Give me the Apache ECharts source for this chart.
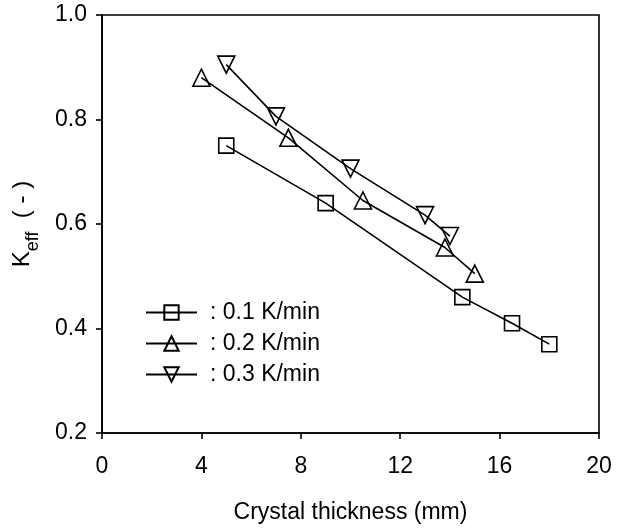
<!DOCTYPE html>
<html>
<head>
<meta charset="utf-8">
<script src="https://cdn.jsdelivr.net/npm/echarts@6/dist/echarts.min.js"></script>
<style>
  html, body { margin: 0; padding: 0; background: #fff; }
  #chart { width: 627px; height: 529px; }
</style>
</head>
<body>
<div id="chart"></div>
<script>
// Crystal thickness (mm) and effective distribution coefficient per cooling rate
const rateLabels = ['0.1 K/min', '0.2 K/min', '0.3 K/min'];

const thick01 = [5, 9, 14.5, 16.5, 18];
const keff01  = [0.75, 0.64, 0.46, 0.41, 0.37];

const thick02 = [4, 7.5, 10.5, 13.8, 15];
const keff02  = [0.88, 0.765, 0.645, 0.555, 0.505];

const thick03 = [5, 7, 10, 13, 14];
const keff03  = [0.905, 0.806, 0.706, 0.617, 0.577];

const xTicks = { min: 0, max: 20, interval: 4 };
const yTicks = { min: 0.2, max: 1.0, interval: 0.2 };

const FONT = "'Liberation Sans', Arial, sans-serif";
const pairs = (xs, ys) => xs.map((x, i) => [x, ys[i]]);

const markerStyle = { color: 'transparent', borderColor: '#000', borderWidth: 1.6 };
const lineStyle = { color: '#000', width: 1.6 };

function makeSeries(name, data, symbol, size) {
  return {
    name: name,
    type: 'line',
    data: data,
    symbol: symbol,
    symbolSize: size,
    showAllSymbol: true,
    lineStyle: lineStyle,
    itemStyle: markerStyle,
    emphasis: { disabled: true },
    animation: false
  };
}

const chart = echarts.init(document.getElementById('chart'), null, { renderer: 'canvas' });

chart.setOption({
  backgroundColor: '#fff',
  animation: false,
  textStyle: { fontFamily: FONT, color: '#000' },
  grid: {
    left: 102, right: 28, top: 15, bottom: 96,
    show: true, borderColor: '#000', borderWidth: 1.6, backgroundColor: 'transparent'
  },
  legend: {
    orient: 'vertical',
    left: 145,
    top: 301,
    padding: 0,
    itemWidth: 51,
    itemHeight: 18,
    itemGap: 8,
    selectedMode: false,
    formatter: name => ': ' + name,
    textStyle: { fontFamily: FONT, fontSize: 23, color: '#000', lineHeight: 22, padding: [0, 0, 0, 8] },
    data: rateLabels.map(n => ({ name: n }))
  },
  xAxis: {
    type: 'value',
    min: xTicks.min, max: xTicks.max, interval: xTicks.interval,
    name: 'Crystal thickness (mm)',
    nameLocation: 'middle',
    nameGap: 68,
    nameTextStyle: { fontFamily: FONT, fontSize: 23, color: '#000' },
    axisLine: { show: true, lineStyle: { color: '#000', width: 1.6 } },
    axisTick: { show: true, inside: false, length: 6, lineStyle: { color: '#000', width: 1.6 } },
    axisLabel: { fontFamily: FONT, fontSize: 23, color: '#000', margin: 22 },
    splitLine: { show: false }
  },
  yAxis: {
    type: 'value',
    min: yTicks.min, max: yTicks.max, interval: yTicks.interval,
    name: '{k|K}{s|eff}{k|  ( - )}',
    nameLocation: 'middle',
    nameGap: 68,
    nameTextStyle: {
      rich: {
        k: { fontFamily: FONT, fontSize: 24, color: '#000', lineHeight: 28, verticalAlign: 'bottom' },
        s: { fontFamily: FONT, fontSize: 18, color: '#000', lineHeight: 28, verticalAlign: 'bottom', padding: [0, 0, -8, 0] }
      }
    },
    axisLine: { show: true, lineStyle: { color: '#000', width: 1.6 } },
    axisTick: { show: true, inside: false, length: 6, lineStyle: { color: '#000', width: 1.6 } },
    axisLabel: { fontFamily: FONT, fontSize: 23, color: '#000', margin: 15, formatter: v => v.toFixed(1) },
    splitLine: { show: false }
  },
  series: [
    makeSeries(rateLabels[0], pairs(thick01, keff01), 'rect', 15),
    makeSeries(rateLabels[1], pairs(thick02, keff02), 'triangle', 17),
    makeSeries(rateLabels[2], pairs(thick03, keff03), 'path://M0,0 L10,0 L5,10 Z', 17)
  ]
});
</script>
</body>
</html>
